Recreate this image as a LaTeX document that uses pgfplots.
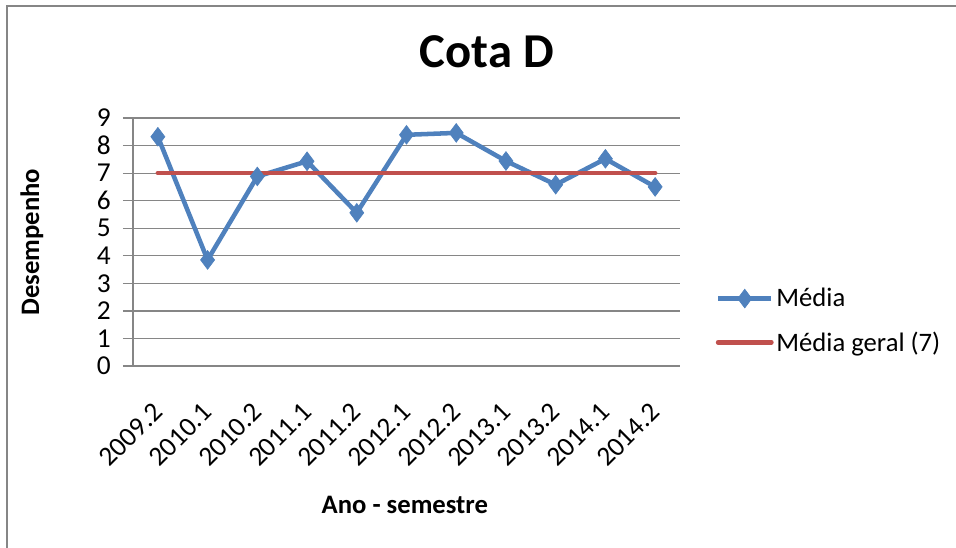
\documentclass[border=0pt]{standalone}
\usepackage{fontspec}
\setmainfont{Carlito}
\usepackage{pgfplots}
\pgfplotsset{compat=1.18}
\definecolor{exblue}{RGB}{79,129,189}
\definecolor{exred}{RGB}{192,80,77}
\definecolor{exgrid}{RGB}{134,134,134}
\begin{document}
\begin{tikzpicture}
\useasboundingbox (0,0) rectangle (717pt,-410.25pt);
\draw[exgrid, line width=1.5pt] (5.25pt,-420pt) -- (5.25pt,-4.5pt) -- (730pt,-4.5pt);
\begin{axis}[
  at={(99.75pt,-274.5pt)}, anchor=south west,
  scale only axis, width=410.25pt, height=186pt,
  xmin=-0.5, xmax=10.5, ymin=0, ymax=9,
  ytick={0,1,...,9},
  xtick={0,...,10},
  xticklabels={2009.2,2010.1,2010.2,2011.1,2011.2,2012.1,2012.2,2013.1,2013.2,2014.1,2014.2},
  /pgf/number format/assume math mode=true,
  font=\fontsize{20.5}{24}\selectfont,
  ymajorgrids, grid style={exgrid, line width=0.9pt},
  axis line style={exgrid, line width=0.9pt},
  axis x line*=bottom, axis y line*=left,
  tick align=outside, major tick length=7.5pt,
  major x tick style={draw=none},
  major y tick style={exgrid, line width=0.9pt},
  yticklabel style={inner sep=1pt, xshift=-8pt},
  xticklabel style={rotate=45, anchor=north east, inner sep=1pt, xshift=-15.8pt, yshift=-8.8pt},
  title={\bfseries Cota D},
  title style={font=\fontsize{36.5}{42}\selectfont, at={(axis description cs:0.647,1.234)}, anchor=center},
  ylabel={\bfseries Desempenho},
  ylabel style={font=\fontsize{20}{24}\selectfont, at={(axis description cs:-0.185,0.5)}, anchor=center, rotate=0},
  xlabel={\bfseries Ano - semestre},
  xlabel style={font=\fontsize{20}{24}\selectfont, at={(axis description cs:0.497,-0.56)}, anchor=center},
  legend style={at={(1.065,0.325)}, anchor=north west, draw=none, fill=none,
    font=\fontsize{20}{24}\selectfont, row sep=13pt, inner sep=0pt,
    nodes={inner sep=2pt}},
  legend cell align=left,
  legend image code/.code={\draw[mark repeat=2,mark phase=2,#1] plot coordinates {(0pt,0pt)(20pt,0pt)(40pt,0pt)};},
  clip=false,
]
\addplot[exblue, line width=3.4pt, mark=diamond*, mark size=7pt, mark options={solid, fill=exblue, draw=exblue, line width=0.5pt}]
coordinates {(0,8.32) (1,3.85) (2,6.88) (3,7.43) (4,5.56) (5,8.39) (6,8.46) (7,7.44) (8,6.58) (9,7.52) (10,6.5)};
\addlegendentry{Média}
\addplot[exred, line width=3.4pt, line cap=round]
coordinates {(0,7) (1,7) (2,7) (3,7) (4,7) (5,7) (6,7) (7,7) (8,7) (9,7) (10,7)};
\addlegendentry{Média geral (7)}
\end{axis}
\end{tikzpicture}
\end{document}
